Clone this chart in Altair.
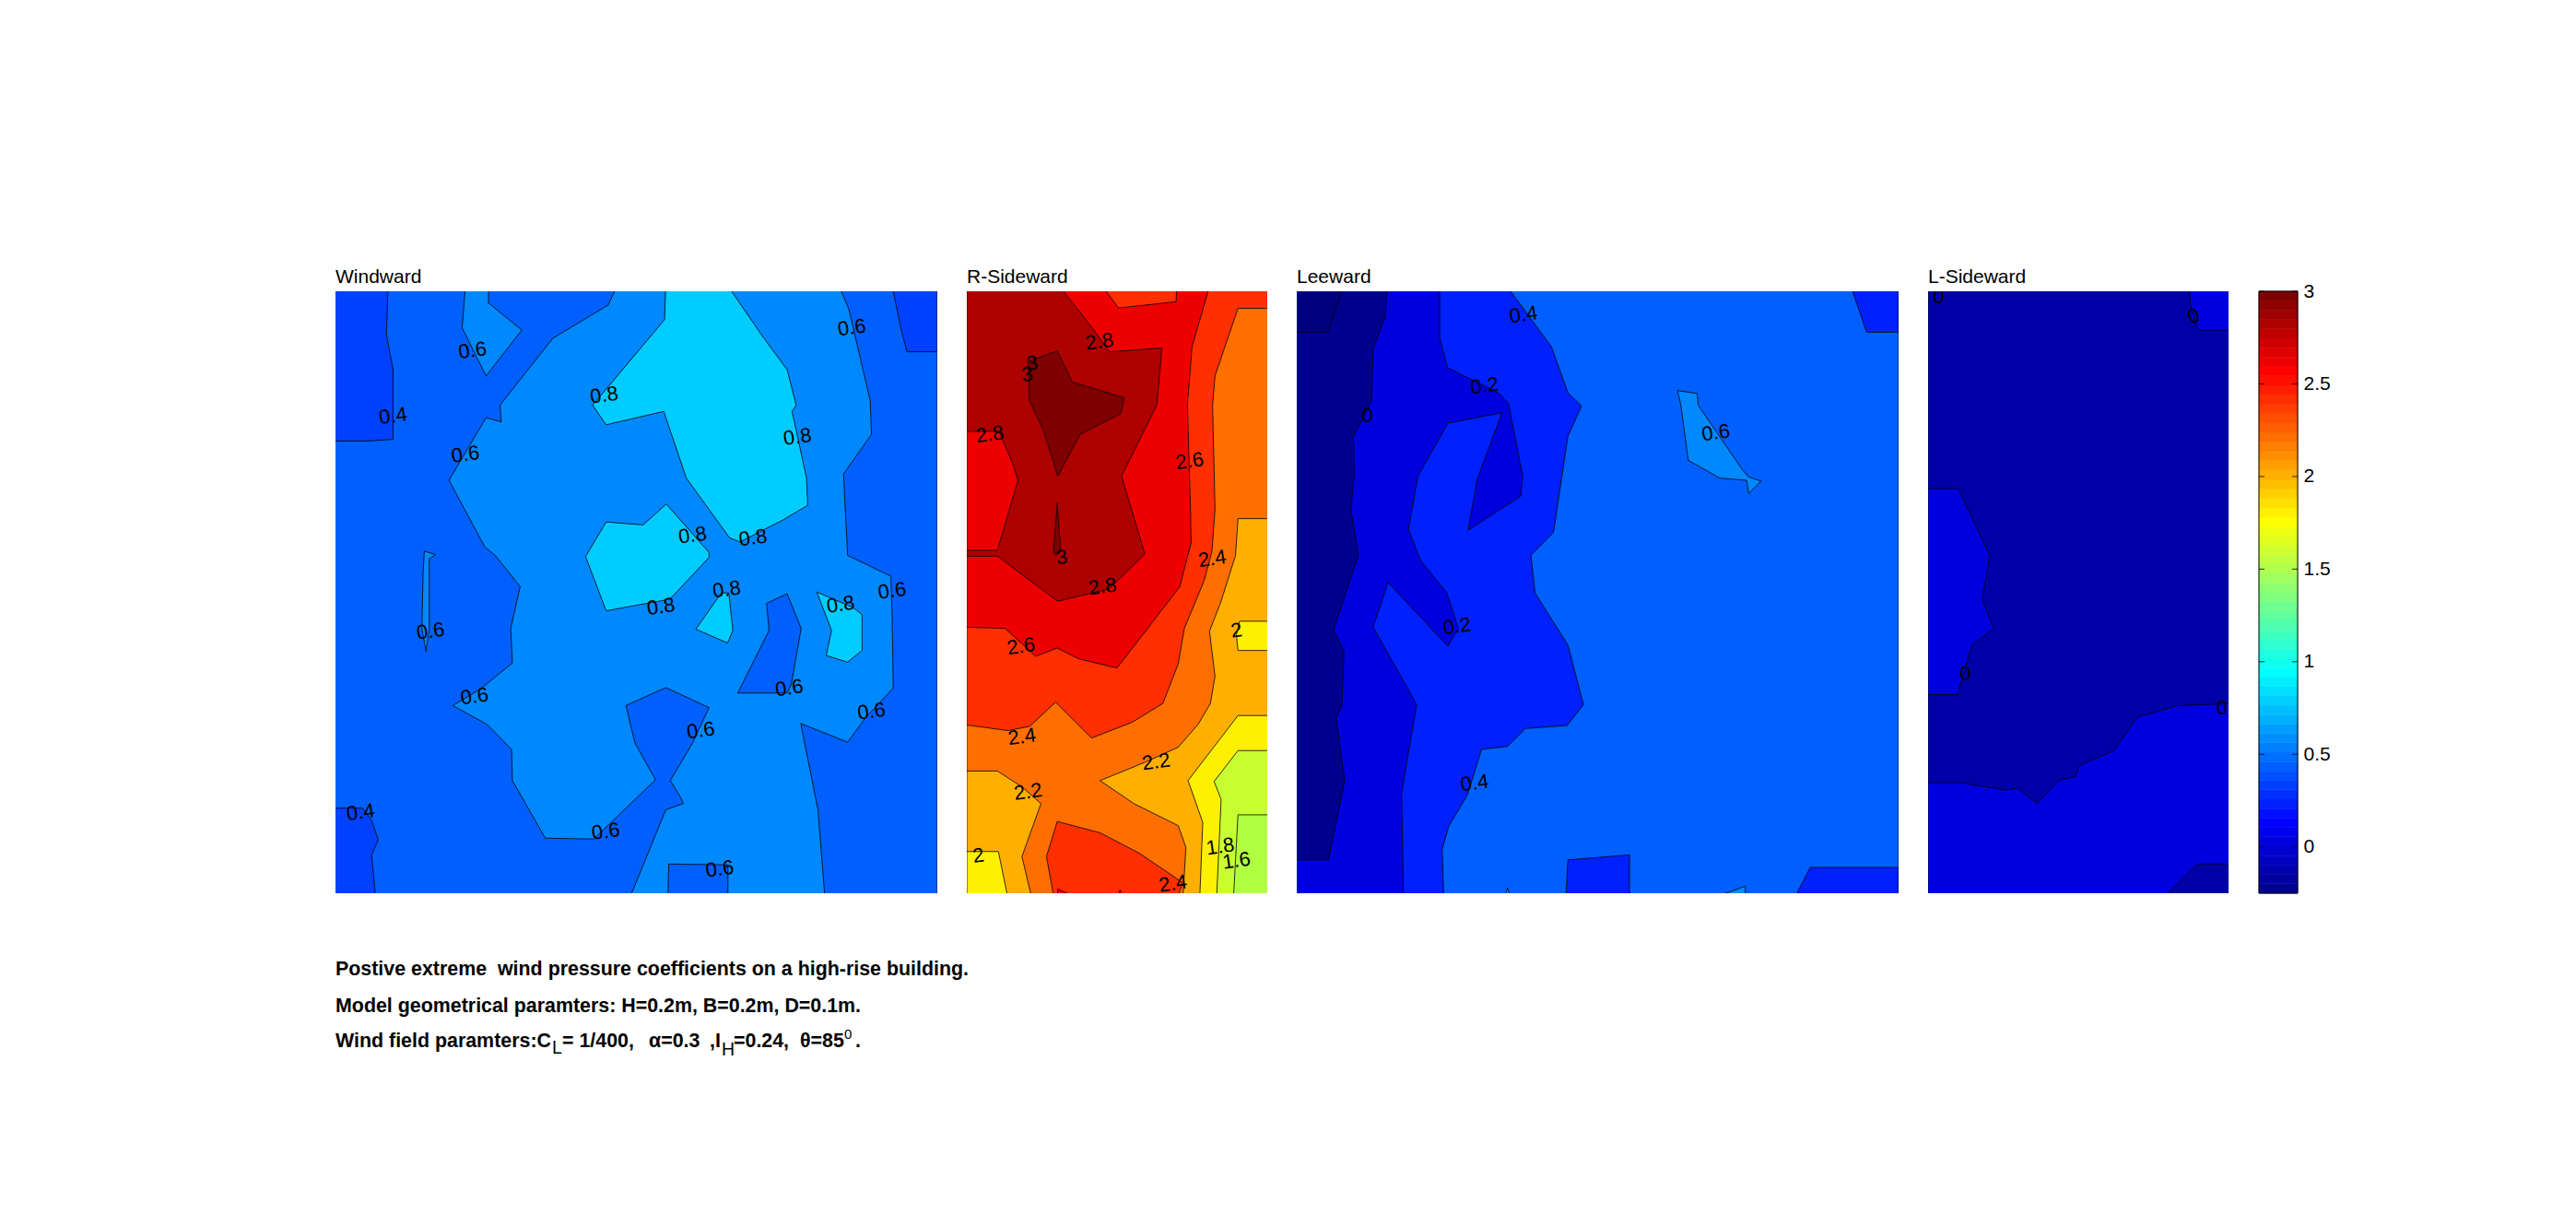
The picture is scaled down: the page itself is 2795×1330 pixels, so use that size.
import altair as alt

# Contour bands: band key -> colour (jet map)
BAND_LEVELS = [-0.4, -0.2, -0.1, 0.0, 0.2, 0.3, 0.4, 0.6, 0.8, 1.4, 1.6, 1.8, 2.0, 2.2, 2.4, 2.6, 2.8, 3.0]
BAND_COLORS = ["#00007f", "#00008f", "#0000a8", "#0000df", "#0020ff", "#0040ff", "#0060ff", "#0088ff", "#00ccff",
               "#b0ff40", "#c8ff30", "#ffef00", "#ffaf00", "#ff6f00", "#ff2f00", "#ef0000", "#af0000", "#7f0000"]

WINDWARD_EXT = (52, 1515, 77, 1520)
WINDWARD = [
    (0.4, [(52,77),(1515,77),(1515,1520),(52,1520)]),
    (0.3, [(52,77),(180,77),(176,180),(192,265),(192,432),(130,436),(52,436)]),
    (0.3, [(1405,77),(1515,77),(1515,222),(1441,222),(1425,160)]),
    (0.3, [(52,1316),(118,1316),(140,1345),(156,1392),(140,1428),(150,1520),(52,1520)]),
    (0.6, [(737,77),(715,110),(580,190),(452,350),(455,390),(418,380),(328,530),(415,690),(440,710),(501,785),
           (478,885),(482,968),(405,1030),(337,1070),(420,1115),(480,1175),(482,1250),(562,1388),(680,1390),
           (830,1248),(780,1160),(758,1070),(855,1027),(960,1075),(920,1160),(866,1250),(888,1285),(898,1305),
           (855,1320),(766,1520),(1242,1520),(1225,1320),(1183,1113),(1297,1158),(1340,1100),(1408,1028),
           (1405,850),(1402,760),(1297,710),(1287,515),(1355,420),(1352,340),(1300,120),(1275,77)]),
    (0.4, [(860,1520),(862,1450),(1006,1452),(1006,1520)]),
    (0.4, [(1100,825),(1150,802),(1184,885),(1160,1020),(1150,1040),(1030,1040),(1106,890)]),
    (0.6, [(368,77),(424,77),(424,105),(505,170),(418,280),(360,165)]),
    (0.6, [(268,700),(295,708),(280,718),(280,885),(272,940),(262,885),(265,750)]),
    (0.8, [(855,77),(1005,77),(1090,185),(1150,265),(1172,350),(1162,365),(1197,525),(1200,590),(1140,625),
           (1035,678),(1010,668),(905,525),(850,365),(710,397),(677,350),(720,300),(852,145)]),
    (0.8, [(710,630),(800,637),(856,587),(960,703),(960,715),(865,815),(710,843),(660,713)]),
    (0.8, [(990,800),(1008,800),(1018,890),(1005,920),(928,887)]),
    (0.8, [(1222,798),(1310,835),(1332,852),(1332,938),(1297,966),(1245,950),(1258,890)]),
]
WINDWARD_LABELS = [("0.6",385,219,352),("0.4",192,376,352),("0.6",368,468,352),("0.8",705,326,352),
    ("0.6",1307,164,352),("0.8",1175,426,352),("0.8",920,662,352),("0.8",1067,668,352),("0.8",843,833,352),
    ("0.8",1003,792,352),("0.8",1280,828,352),("0.6",1405,795,352),("0.6",283,892,352),("0.6",390,1048,352),
    ("0.6",1155,1028,352),("0.6",1355,1084,352),("0.6",940,1130,352),("0.6",709,1372,352),("0.4",113,1326,352),
    ("0.6",986,1462,352)]

RSIDE_EXT = (55, 1037, 77, 1520)
RSIDE = [
    (2.2, [(55,77),(1037,77),(1037,1520),(55,1520)]),
    (2.4, [(55,77),(1037,77),(1037,118),(940,118),(865,280),(857,350),(865,600),(855,700),(830,770),(765,885),
           (745,970),(695,1065),(595,1110),(462,1148),(345,1062),(260,1120),(190,1130),(55,1115)]),
    (2.6, [(55,77),(848,77),(790,210),(775,350),(785,600),(787,680),(750,785),(640,890),(545,980),(420,958),
           (350,932),(280,952),(180,885),(55,882)]),
    (2.4, [(495,77),(740,77),(738,102),(550,117)]),
    (2.8, [(55,77),(355,77),(465,165),(520,222),(692,213),(675,350),(560,520),(636,707),(520,790),(352,820),
           (155,712),(55,712)]),
    (2.6, [(55,413),(160,413),(205,490),(222,530),(155,698),(55,698)]),
    (3.0, [(255,245),(350,220),(400,295),(568,332),(558,370),(425,420),(352,520),(305,410),(260,340)]),
    (3.0, [(350,585),(362,700),(345,710),(338,700)]),
    (2.0, [(1037,622),(940,622),(932,710),(885,820),(847,892),(865,1000),(850,1065),(810,1115),(745,1170),
           (640,1205),(490,1250),(600,1305),(745,1358),(770,1410),(760,1520),(1037,1520)]),
    (2.0, [(55,1227),(155,1227),(235,1265),(297,1305),(235,1432),(268,1520),(55,1520)]),
    (2.4, [(350,1348),(490,1375),(620,1425),(760,1495),(740,1520),(340,1520),(315,1432)]),
    (2.6, [(350,1520),(352,1510),(425,1520)]),
    (2.6, [(545,1520),(555,1512),(565,1520)]),
    (1.8, [(1037,868),(945,868),(935,900),(940,938),(1037,938)]),
    (1.8, [(1037,1094),(940,1094),(777,1250),(825,1350),(815,1520),(1037,1520)]),
    (1.8, [(55,1420),(158,1420),(190,1520),(55,1520)]),
    (1.6, [(1037,1178),(940,1178),(862,1252),(885,1295),(870,1520),(1037,1520)]),
    (1.4, [(1037,1332),(940,1332),(925,1520),(1037,1520)]),
]
RSIDE_LABELS = [("2.8",488,198,352),("3",268,250,352),("3",252,277,352),("2.8",130,420,352),("2.6",782,484,352),
    ("3",365,715,352),("2.4",856,718,352),("2.8",498,785,352),("2.6",232,928,352),("2",935,890,352),
    ("2.4",235,1145,352),("2.2",673,1205,352),("2.2",255,1277,352),("2",93,1430,352),("1.8",882,1408,352),
    ("1.6",935,1442,352),("2.4",728,1497,352)]

LEEWARD_EXT = (40, 1505, 77, 1520)
LEEWARD = [
    (0.4, [(40,77),(1505,77),(1505,1520),(40,1520)]),
    (0.2, [(550,77),(660,210),(700,320),(733,352),(700,425),(665,655),(610,710),(620,800),(700,925),(738,1068),
           (698,1118),(597,1125),(553,1168),(490,1175),(455,1285),(410,1360),(394,1415),(398,1520),(40,1520),(40,77)]),
    (0.2, [(1388,77),(1505,77),(1505,175),(1427,175)]),
    (0.2, [(700,1440),(850,1428),(850,1520),(695,1520)]),
    (0.2, [(1290,1458),(1505,1458),(1505,1520),(1250,1520)]),
    (0.6, [(967,315),(1015,322),(1017,350),(1125,505),(1140,522),(1170,532),(1140,562),(1135,530),(1070,525),(993,482),(975,350)]),
    (0.6, [(1045,1520),(1132,1503),(1132,1520)]),
    (0.6, [(545,1520),(553,1507),(562,1520)]),
    (0.0, [(40,77),(388,77),(388,190),(407,260),(530,320),(555,345),(590,520),(585,568),(457,650),(480,525),(540,368),
           (408,393),(335,520),(312,647),(340,720),(405,800),(433,885),(408,928),(262,775),(226,882),(332,1068),
           (295,1280),(300,1520),(40,1520)]),
    (-0.2, [(40,77),(260,77),(255,140),(226,215),(222,340),(178,425),(180,520),(172,600),(190,710),(130,888),
            (155,940),(150,1070),(136,1100),(157,1250),(117,1440),(40,1440)]),
    (-0.4, [(40,77),(155,77),(115,175),(40,175)]),
]
LEEWARD_LABELS = [("0.4",592,133,352),("0.2",497,304,352),("0",212,375,0),("0.6",1060,416,352),("0.2",430,880,352),("0.4",473,1256,352)]

LSIDE_EXT = (44, 1025, 77, 1520)
LSIDE = [
    (-0.1, [(44,77),(1025,77),(1025,1520),(44,1520)]),
    (0.0, [(44,550),(142,550),(245,710),(220,815),(258,885),(187,925),(140,1044),(44,1044)]),
    (0.0, [(895,77),(1025,77),(1025,170),(925,170),(900,110)]),
    (0.0, [(44,1255),(150,1255),(300,1273),(335,1268),(400,1305),(470,1250),(525,1240),(535,1215),(650,1178),
           (727,1098),(860,1070),(1025,1065),(1025,1520),(44,1520)]),
    (-0.1, [(920,1450),(1025,1450),(1025,1520),(807,1520)]),
]
LSIDE_LABELS = [("0",78,90,0),("0",910,137,340),("0",165,995,0),("0",1002,1075,0)]

# Colour bar
JET = ["00008f","00009f","0000af","0000bf","0000cf","0000df","0000ef","0000ff",
       "000fff","001fff","002fff","003fff","004fff","005fff","006fff","007fff",
       "008fff","009fff","00afff","00bfff","00cfff","00dfff","00efff","00ffff",
       "0fffef","1fffdf","2fffcf","3fffbf","4fffaf","5fff9f","6fff8f","7fff7f",
       "8fff6f","9fff5f","afff4f","bfff3f","cfff2f","dfff1f","efff0f","ffff00",
       "ffef00","ffdf00","ffcf00","ffbf00","ffaf00","ff9f00","ff8f00","ff7f00",
       "ff6f00","ff5f00","ff4f00","ff3f00","ff2f00","ff1f00","ff0f00","ff0000",
       "ef0000","df0000","cf0000","bf0000","af0000","9f0000","8f0000","7f0000"]
CB_MIN, CB_MAX = -0.25, 3.0
CB_TICKS = [0, 0.5, 1, 1.5, 2, 2.5, 3]

NOTE_LINES = [
    ("Postive extreme \u00a0wind pressure coefficients on a high-rise building.", 0, 0, "bold", 21.4),
    ("Model geometrical paramters: H=0.2m, B=0.2m, D=0.1m.", 0, 39.5, "bold", 21.4),
    ("Wind field paramters:C", 0, 78, "bold", 21.4),
    ("L", 235, 85, "normal", 19.5),
    ("= 1/400,", 246, 78, "bold", 21.4),
    ("\u03b1=0.3", 340, 78, "bold", 21.4),
    (",I", 406, 78, "bold", 21.4),
    ("H", 419, 87, "normal", 19.5),
    ("=0.24,", 432, 78, "bold", 21.4),
    ("\u03b8=85", 504, 78, "bold", 21.4),
    ("0", 552, 70, "normal", 15),
    (".", 564, 78, "bold", 21.4),
]

FONT = "Liberation Sans"
PX_PER_M = 3265
HEIGHT_M = 0.2


def panel(title, polys, labels, ext, depth_m, edges=()):
    x0, x1, y0, y1 = ext
    sx = lambda v: (v - x0) / (x1 - x0) * depth_m
    sy = lambda v: (v - y0) / (y1 - y0) * HEIGHT_M
    pad = 0.002

    def out(p):
        x = sx(p[0]); y = sy(p[1])
        if p[0] <= x0: x = -pad
        if p[0] >= x1: x = depth_m + pad
        if p[1] <= y0: y = -pad
        if p[1] >= y1: y = HEIGHT_M + pad
        return [x, y]

    feats = []
    for lev, pts in polys:
        ring = [out(p) for p in pts]
        ring.append(ring[0])
        feats.append({"type": "Feature", "properties": {"level": lev},
                      "geometry": {"type": "Polygon", "coordinates": [ring]}})
    proj = dict(type="identity", scale=PX_PER_M, translate=[0, 0])
    fills = alt.Chart(alt.Data(values=feats)).mark_geoshape(stroke="#000000", strokeWidth=0.8, clip=True).encode(
        color=alt.Color("properties.level:O", legend=None,
                        scale=alt.Scale(domain=BAND_LEVELS, range=BAND_COLORS))
    )
    layers = [fills]
    if edges:
        edge_feats = [{"type": "Feature", "properties": {},
                       "geometry": {"type": "LineString", "coordinates": [[e * depth_m, 0], [e * depth_m, HEIGHT_M]]}}
                      for e in edges]
        layers.append(alt.Chart(alt.Data(values=edge_feats)).mark_geoshape(filled=False, stroke="#000000", strokeWidth=0.8))
    rows = [{"t": t, "lon": sx(x), "lat": sy(y), "a": a} for t, x, y, a in labels]
    text = alt.Chart(alt.Data(values=rows)).mark_text(font=FONT, fontSize=22, color="#000000").encode(
        longitude="lon:Q", latitude="lat:Q", text="t:N", angle=alt.Angle("a:Q", scale=None)
    )
    layers.append(text)
    return alt.layer(*layers).project(**proj).properties(
        width=round(depth_m * PX_PER_M), height=round(HEIGHT_M * PX_PER_M),
        title=alt.TitleParams(title, anchor="start", frame="group", font=FONT, fontSize=21, fontWeight="normal",
                              color="#000000", offset=5),
    )


def colorbar():
    n = len(JET)
    step = (CB_MAX - CB_MIN) / n
    rows = [{"lo": CB_MIN + i * step, "hi": CB_MIN + (i + 1) * step, "c": "#" + c} for i, c in enumerate(JET)]
    scale = alt.Scale(domain=[CB_MIN, CB_MAX], nice=False, zero=False)
    axis = alt.Axis(orient="right", values=CB_TICKS, title=None, domain=False, ticks=False, grid=False,
                    labelFont=FONT, labelFontSize=21, labelColor="#000000", labelPadding=6, format="~g")
    bands = alt.Chart(alt.Data(values=rows)).mark_rect(strokeWidth=0.6).encode(
        x=alt.value(0), x2=alt.value(42), y=alt.Y("lo:Q", scale=scale, axis=axis), y2="hi:Q",
        color=alt.Color("c:N", scale=None), stroke=alt.Stroke("c:N", scale=None))
    tick_rows = [{"v": v} for v in CB_TICKS]
    tl = alt.Chart(alt.Data(values=tick_rows)).mark_rule(color="#000000", strokeWidth=0.8).encode(
        x=alt.value(0), x2=alt.value(6), y=alt.Y("v:Q", scale=scale, axis=axis))
    tr = alt.Chart(alt.Data(values=tick_rows)).mark_rule(color="#000000", strokeWidth=0.8).encode(
        x=alt.value(36), x2=alt.value(42), y=alt.Y("v:Q", scale=scale, axis=axis))
    frame = alt.Chart(alt.Data(values=[{"k": 1}])).mark_rect(fillOpacity=0, stroke="#000000", strokeWidth=1).encode(
        x=alt.value(0), x2=alt.value(42), y=alt.value(0), y2=alt.value(653))
    return alt.layer(bands, tl, tr, frame).properties(width=42, height=653,
        title=alt.TitleParams(" ", font=FONT, fontSize=21, offset=5))


def notes():
    rows = [{"t": t, "px": x, "py": y, "w": w, "s": s} for t, x, y, w, s in NOTE_LINES]
    layers = []
    for w in ("bold", "normal"):
        sub = [r for r in rows if r["w"] == w]
        layers.append(alt.Chart(alt.Data(values=sub)).mark_text(
            font=FONT, fontWeight=w, align="left", baseline="middle", color="#000000").encode(
            x=alt.X("px:Q", scale=alt.Scale(domain=[0, 1000], range=[0, 1000]), axis=None),
            y=alt.Y("py:Q", scale=alt.Scale(domain=[0, 100], range=[0, 100]), axis=None),
            text="t:N", size=alt.Size("s:Q", scale=None)))
    return alt.layer(*layers).properties(width=1000, height=100)


row = alt.hconcat(
    panel("Windward", WINDWARD, WINDWARD_LABELS, WINDWARD_EXT, 0.2, edges=(1,)),
    panel("R-Sideward", RSIDE, RSIDE_LABELS, RSIDE_EXT, 0.1, edges=(0, 1)),
    panel("Leeward", LEEWARD, LEEWARD_LABELS, LEEWARD_EXT, 0.2, edges=(1,)),
    panel("L-Sideward", LSIDE, LSIDE_LABELS, LSIDE_EXT, 0.1, edges=(0, 1)),
    colorbar(),
    spacing=32,
)

chart = alt.vconcat(row, notes(), spacing=70).properties(
    padding={"left": 355, "top": 270, "right": 0, "bottom": 0},
    background="#ffffff",
).configure_view(stroke="transparent")

chart.save("out.html", embed_options={"renderer": "svg", "actions": False})
